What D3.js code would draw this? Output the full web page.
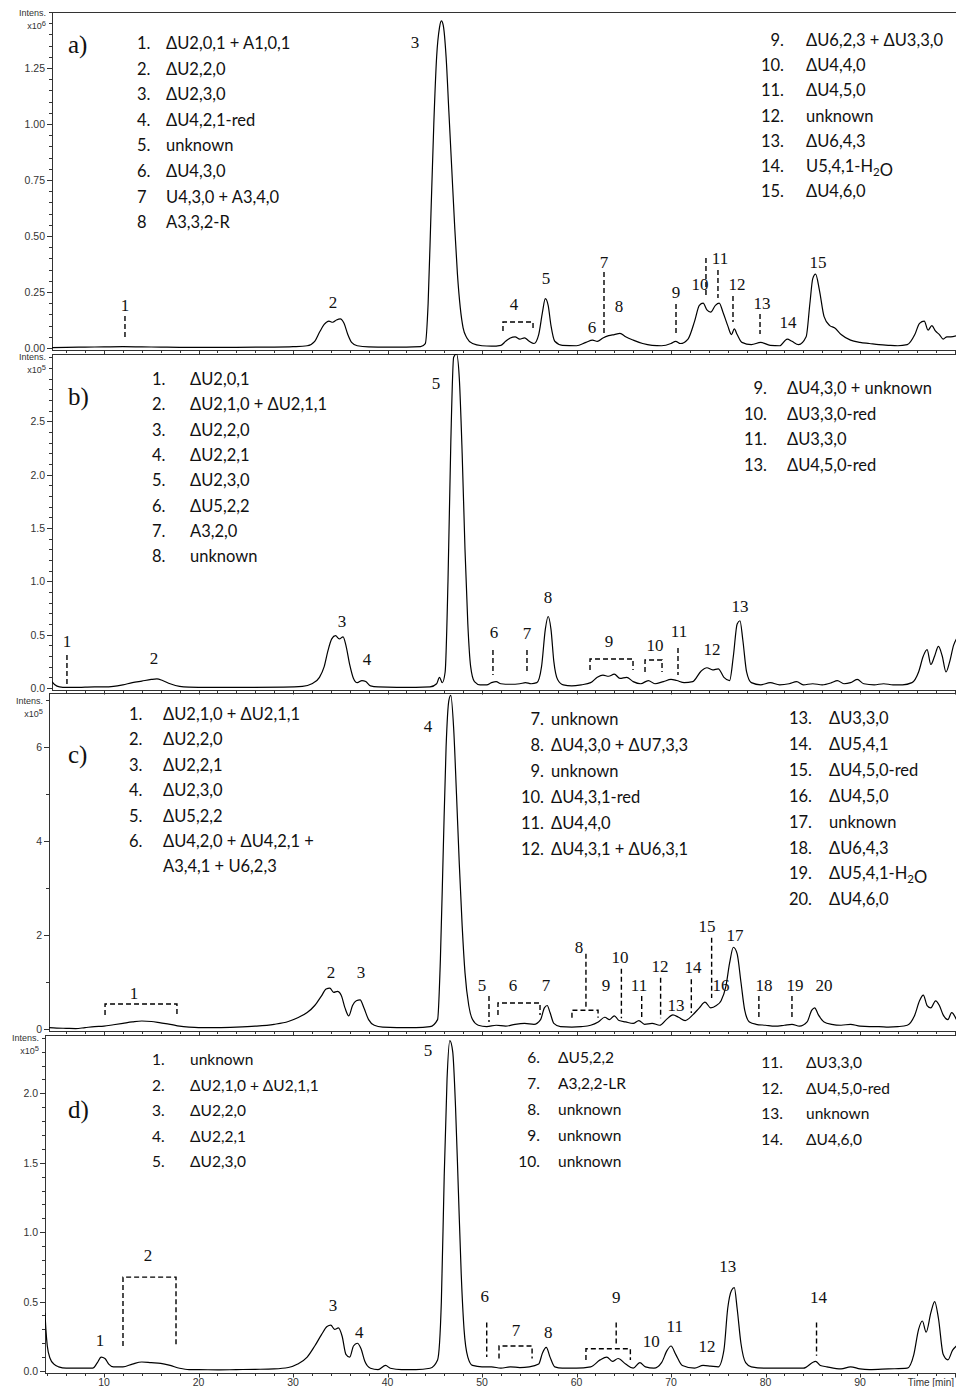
<!DOCTYPE html>
<html>
<head>
<meta charset="utf-8">
<script src="https://cdn.jsdelivr.net/npm/d3@7"></script>
<style>
  body { margin: 0; background: #fff; }
  .axis-label { font-family: "Liberation Sans", Arial, sans-serif; font-size: 10.5px; fill: #333; }
  .legend { font-family: Lato, "Open Sans", sans-serif; fill: #111; }
  .peak { font-family: "Liberation Serif", "Times New Roman", serif; font-size: 17px; fill: #111; }
  .tag { font-family: "Liberation Serif", "Times New Roman", serif; font-size: 25px; fill: #111; }
</style>
</head>
<body>
<svg id="chart" width="956" height="1387"></svg>
<script>
// ---------- chromatogram traces: [time (min), intensity] ----------
// a) intensity x10^6
const traceA = [[4.5,0.002],[6,0.003],[8,0.004],[10,0.005],[12,0.006],[14,0.005],[16,0.004],[18,0.003],[20,0.003],[24,0.003],[28,0.004],[30,0.006],[31.5,0.01],[32.3,0.03],[32.8,0.07],[33.3,0.105],[33.8,0.12],[34.2,0.115],[34.6,0.125],[35.0,0.13],[35.4,0.11],[35.8,0.06],[36.2,0.025],[36.8,0.01],[38,0.005],[40,0.004],[42,0.004],[43.5,0.006],[44.0,0.02],[44.3,0.2],[44.6,0.6],[44.9,1.0],[45.2,1.3],[45.5,1.43],[45.7,1.46],[45.9,1.44],[46.2,1.3],[46.5,1.05],[46.8,0.8],[47.1,0.55],[47.4,0.33],[47.7,0.18],[48.0,0.09],[48.4,0.045],[49,0.02],[50,0.01],[51,0.008],[52,0.012],[52.5,0.03],[53,0.045],[53.5,0.05],[54,0.04],[54.5,0.045],[55,0.03],[55.5,0.02],[56,0.06],[56.4,0.16],[56.7,0.22],[57.0,0.19],[57.3,0.1],[57.7,0.03],[58.5,0.012],[60,0.01],[61,0.025],[61.7,0.035],[62.2,0.03],[62.8,0.045],[63.4,0.055],[64,0.06],[64.6,0.065],[65.2,0.05],[66,0.035],[67,0.02],[68,0.012],[69,0.01],[70,0.02],[70.5,0.03],[71,0.02],[71.8,0.04],[72.5,0.12],[73.0,0.19],[73.4,0.2],[73.8,0.17],[74.2,0.16],[74.7,0.19],[75.1,0.2],[75.5,0.16],[76.0,0.1],[76.4,0.06],[76.7,0.085],[77.0,0.06],[77.5,0.025],[78.5,0.015],[79.5,0.025],[80.5,0.012],[81.5,0.01],[82.3,0.04],[82.8,0.03],[83.5,0.015],[84.3,0.05],[84.7,0.2],[85.0,0.31],[85.3,0.33],[85.7,0.26],[86.2,0.14],[86.8,0.1],[87.3,0.09],[88,0.06],[89,0.035],[90,0.025],[91,0.02],[92,0.015],[93,0.012],[94,0.01],[95,0.015],[95.8,0.06],[96.3,0.11],[96.8,0.12],[97.2,0.08],[97.6,0.1],[98,0.075],[98.4,0.06],[98.8,0.04],[99.2,0.05],[99.6,0.05],[100.2,0.055]];
// b) intensity x10^5
const traceB = [[4.5,0.06],[4.8,0.03],[5.3,0.01],[6,0.005],[7,0.005],[8,0.008],[9,0.01],[10,0.01],[11,0.015],[12,0.03],[13,0.05],[14,0.065],[15,0.08],[15.6,0.085],[16.2,0.07],[17,0.04],[18,0.015],[19,0.008],[21,0.005],[25,0.005],[29,0.008],[31,0.015],[32,0.04],[32.8,0.1],[33.3,0.2],[33.7,0.35],[34.1,0.46],[34.5,0.49],[34.9,0.46],[35.3,0.48],[35.6,0.4],[36.0,0.22],[36.4,0.09],[36.8,0.05],[37.3,0.07],[37.7,0.06],[38.2,0.02],[39,0.01],[41,0.006],[43,0.006],[44.5,0.01],[45.2,0.04],[45.5,0.1],[45.8,0.05],[46.1,0.15],[46.4,1.0],[46.7,2.3],[47.0,3.1],[47.3,3.13],[47.6,2.9],[47.9,2.2],[48.2,1.3],[48.5,0.6],[48.8,0.2],[49.2,0.06],[49.8,0.03],[50.5,0.03],[51,0.05],[51.5,0.06],[52,0.04],[53,0.035],[54,0.04],[54.6,0.05],[55.2,0.04],[55.8,0.05],[56.3,0.2],[56.7,0.55],[57.0,0.67],[57.3,0.55],[57.6,0.25],[58,0.08],[58.6,0.03],[59.5,0.02],[60.5,0.03],[61.5,0.05],[62.2,0.1],[62.8,0.12],[63.4,0.11],[64,0.13],[64.6,0.09],[65.3,0.1],[66,0.06],[66.8,0.04],[67.6,0.07],[68.3,0.04],[69.2,0.06],[70,0.08],[70.6,0.07],[71.4,0.05],[72.3,0.06],[73.2,0.16],[73.8,0.19],[74.4,0.17],[75,0.18],[75.6,0.1],[76.2,0.07],[76.6,0.3],[77.0,0.6],[77.3,0.63],[77.6,0.45],[78,0.15],[78.5,0.05],[79.5,0.03],[80.5,0.05],[81.5,0.03],[82.5,0.04],[83.3,0.06],[84,0.03],[85,0.04],[86,0.03],[87,0.05],[87.6,0.07],[88.3,0.04],[89,0.05],[89.7,0.08],[90.4,0.04],[91.5,0.03],[92.5,0.04],[93.5,0.03],[94.5,0.03],[95.5,0.05],[96.2,0.15],[96.7,0.3],[97.1,0.36],[97.5,0.22],[97.9,0.3],[98.3,0.39],[98.7,0.3],[99.1,0.15],[99.5,0.25],[99.9,0.4],[100.2,0.46]];
// c) intensity x10^5
const traceC = [[4.2,0.03],[5,0.02],[6,0.015],[7,0.01],[8,0.03],[9,0.05],[10,0.06],[11,0.09],[12,0.12],[13,0.15],[14,0.17],[15,0.16],[16,0.13],[17,0.1],[18,0.06],[19,0.04],[20,0.03],[22,0.03],[24,0.04],[26,0.06],[28,0.1],[29.5,0.16],[30.5,0.24],[31.5,0.35],[32.3,0.5],[33.0,0.7],[33.5,0.85],[33.9,0.87],[34.3,0.78],[34.7,0.8],[35.1,0.72],[35.5,0.45],[35.9,0.28],[36.3,0.5],[36.7,0.6],[37.1,0.62],[37.5,0.45],[38,0.2],[38.6,0.08],[39.5,0.04],[41,0.03],[43,0.03],[44.5,0.05],[45.3,0.2],[45.6,1.5],[45.9,3.8],[46.2,6.0],[46.5,7.0],[46.7,7.1],[47.0,6.4],[47.3,5.0],[47.6,3.5],[47.9,2.2],[48.2,1.2],[48.6,0.5],[49,0.2],[49.6,0.08],[50.5,0.05],[51.5,0.08],[52.5,0.06],[53.5,0.1],[54.5,0.12],[55.5,0.1],[56.2,0.2],[56.6,0.45],[56.9,0.5],[57.2,0.35],[57.6,0.12],[58.3,0.05],[59.5,0.04],[60.5,0.05],[61.5,0.08],[62.3,0.15],[63,0.25],[63.5,0.2],[64,0.28],[64.5,0.18],[65.2,0.15],[66,0.12],[66.6,0.18],[67.2,0.1],[68,0.12],[68.8,0.08],[69.5,0.2],[70.2,0.3],[70.8,0.25],[71.5,0.18],[72.3,0.3],[73,0.45],[73.6,0.57],[74.2,0.45],[74.8,0.5],[75.3,0.6],[75.8,0.9],[76.2,1.4],[76.6,1.74],[77,1.6],[77.4,1.0],[77.8,0.4],[78.3,0.15],[79,0.1],[80,0.08],[81,0.06],[82,0.08],[82.8,0.1],[83.6,0.06],[84.4,0.15],[84.9,0.4],[85.2,0.45],[85.6,0.3],[86.2,0.15],[87,0.1],[88,0.08],[89,0.1],[90,0.06],[91,0.05],[92,0.05],[93,0.04],[94,0.05],[95,0.08],[95.8,0.3],[96.3,0.6],[96.7,0.72],[97.1,0.5],[97.5,0.45],[98,0.6],[98.4,0.5],[98.8,0.3],[99.3,0.2],[99.7,0.35],[100.2,0.2]];
// d) intensity x10^5
const traceD = [[3.75,0.42],[3.85,0.3],[4,0.18],[4.3,0.09],[4.7,0.05],[5.2,0.03],[6,0.02],[7,0.02],[8,0.02],[8.8,0.02],[9.3,0.06],[9.7,0.1],[10.1,0.09],[10.5,0.05],[11,0.03],[12,0.03],[13,0.05],[14,0.065],[15,0.06],[16,0.055],[17,0.04],[18,0.02],[19,0.01],[20,0.01],[22,0.008],[24,0.01],[26,0.012],[28,0.015],[29.5,0.025],[30.5,0.05],[31.5,0.1],[32.3,0.18],[33,0.26],[33.6,0.32],[34.0,0.33],[34.4,0.3],[34.8,0.31],[35.2,0.25],[35.6,0.12],[36.0,0.1],[36.4,0.18],[36.8,0.2],[37.2,0.16],[37.6,0.07],[38.2,0.02],[39,0.01],[39.8,0.04],[40.3,0.02],[41.5,0.01],[43,0.01],[44.5,0.02],[45.3,0.08],[45.7,0.5],[46.0,1.4],[46.3,2.1],[46.6,2.38],[46.9,2.3],[47.2,1.9],[47.5,1.3],[47.8,0.7],[48.1,0.3],[48.5,0.1],[49,0.04],[50,0.03],[51,0.03],[52,0.02],[53,0.03],[54,0.025],[55,0.03],[56,0.05],[56.4,0.13],[56.8,0.17],[57.2,0.1],[57.7,0.03],[58.5,0.02],[60,0.02],[61.5,0.03],[62.5,0.08],[63.2,0.1],[63.8,0.07],[64.4,0.09],[65.2,0.05],[66,0.02],[66.7,0.06],[67.3,0.03],[68.2,0.02],[69,0.06],[69.6,0.15],[70,0.18],[70.5,0.12],[71.2,0.04],[72.5,0.02],[73.4,0.04],[74.2,0.035],[75,0.03],[75.6,0.15],[76,0.45],[76.4,0.58],[76.7,0.6],[77.0,0.45],[77.4,0.2],[77.9,0.06],[78.5,0.03],[80,0.02],[82,0.02],[84,0.02],[85.3,0.07],[85.8,0.04],[86.5,0.03],[88,0.015],[89,0.03],[90,0.015],[91,0.01],[93,0.015],[95,0.02],[95.7,0.12],[96.2,0.3],[96.6,0.36],[97,0.28],[97.5,0.42],[97.9,0.5],[98.3,0.38],[98.8,0.12],[99.3,0.08],[99.8,0.15],[100.2,0.18]];

// ---------- time axis ----------
const timeTicks = [10, 20, 30, 40, 50, 60, 70, 80, 90];
const timeTitle = "Time [min]";

// ---------- peak assignments (number, composition); "_2" marks a subscript ----------
const legendA1 = [["1.","ΔU2,0,1 + A1,0,1"],["2.","ΔU2,2,0"],["3.","ΔU2,3,0"],["4.","ΔU4,2,1-red"],["5.","unknown"],["6.","ΔU4,3,0"],["7","U4,3,0 + A3,4,0"],["8","A3,3,2-R"]];
const legendA2 = [["9.","ΔU6,2,3 + ΔU3,3,0"],["10.","ΔU4,4,0"],["11.","ΔU4,5,0"],["12.","unknown"],["13.","ΔU6,4,3"],["14.","U5,4,1-H_2O"],["15.","ΔU4,6,0"]];
const legendB1 = [["1.","ΔU2,0,1"],["2.","ΔU2,1,0 + ΔU2,1,1"],["3.","ΔU2,2,0"],["4.","ΔU2,2,1"],["5.","ΔU2,3,0"],["6.","ΔU5,2,2"],["7.","A3,2,0"],["8.","unknown"]];
const legendB2 = [["9.","ΔU4,3,0 + unknown"],["10.","ΔU3,3,0-red"],["11.","ΔU3,3,0"],["13.","ΔU4,5,0-red"]];
const legendC1 = [["1.","ΔU2,1,0 + ΔU2,1,1"],["2.","ΔU2,2,0"],["3.","ΔU2,2,1"],["4.","ΔU2,3,0"],["5.","ΔU5,2,2"],["6.","ΔU4,2,0 + ΔU4,2,1 +"],["","A3,4,1 + U6,2,3"]];
const legendC2 = [["7.","unknown"],["8.","ΔU4,3,0 + ΔU7,3,3"],["9.","unknown"],["10.","ΔU4,3,1-red"],["11.","ΔU4,4,0"],["12.","ΔU4,3,1 + ΔU6,3,1"]];
const legendC3 = [["13.","ΔU3,3,0"],["14.","ΔU5,4,1"],["15.","ΔU4,5,0-red"],["16.","ΔU4,5,0"],["17.","unknown"],["18.","ΔU6,4,3"],["19.","ΔU5,4,1-H_2O"],["20.","ΔU4,6,0"]];
const legendD1 = [["1.","unknown"],["2.","ΔU2,1,0 + ΔU2,1,1"],["3.","ΔU2,2,0"],["4.","ΔU2,2,1"],["5.","ΔU2,3,0"]];
const legendD2 = [["6.","ΔU5,2,2"],["7.","A3,2,2-LR"],["8.","unknown"],["9.","unknown"],["10.","unknown"]];
const legendD3 = [["11.","ΔU3,3,0"],["12.","ΔU4,5,0-red"],["13.","unknown"],["14.","ΔU4,6,0"]];

// ---------- peak numbers on the traces: [label, time, intensity] ----------
const peaksA = [["1",12.22,0.165],["2",34.23,0.179],["3",42.91,1.339],["4",53.39,0.170],["5",56.77,0.286],["6",61.64,0.067],["7",62.91,0.357],["8",64.50,0.161],["9",70.53,0.223],["10",73.07,0.259],["11",75.19,0.375],["12",76.98,0.259],["13",79.63,0.174],["14",82.38,0.089],["15",85.56,0.357]];
const peaksB = [["1",6.08,0.384],["2",15.29,0.225],["3",35.19,0.572],["4",37.83,0.216],["5",45.13,2.802],["6",51.27,0.469],["7",54.76,0.459],["8",56.98,0.797],["9",63.44,0.384],["10",68.31,0.347],["11",70.85,0.478],["12",74.34,0.309],["13",77.30,0.712]];
const peaksC = [["1",13.17,0.638],["2",34.02,1.085],["3",37.20,1.085],["4",44.29,6.319],["5",50.0,0.809],["6",53.28,0.809],["7",56.77,0.809],["8",60.26,1.617],["9",63.12,0.809],["10",64.6,1.404],["11",66.61,0.809],["12",68.84,1.213],["13",70.53,0.383],["14",72.33,1.191],["15",73.81,2.064],["16",75.29,0.809],["17",76.77,1.872],["18",79.84,0.809],["19",83.12,0.809],["20",86.19,0.809]];
const peaksD = [["1",9.58,0.180],["2",14.66,0.79],["3",34.23,0.43],["4",37.0,0.24],["5",44.29,2.27],["6",50.3,0.50],["7",53.6,0.25],["8",57.0,0.24],["9",64.2,0.49],["10",67.9,0.17],["11",70.4,0.28],["12",73.8,0.14],["13",76.0,0.71],["14",85.6,0.49]];

// ---------- dashed leaders [time, from, to] and brackets [t1, t2, level, drop] ----------
const leadersA = [[12.22,0.143,0.045],[62.91,0.339,0.067],[70.53,0.196,0.054],[73.70,0.402,0.232],[74.97,0.348,0.223],[76.56,0.232,0.116],[79.42,0.152,0.063]];
const bracketsA = [[52.22,55.40,0.116,0.076]];
const leadersB = [[6.08,0.309,0.037],[51.16,0.356,0.122],[54.76,0.356,0.141],[70.74,0.375,0.122]];
const bracketsB = [[61.43,65.98,0.272,0.169],[67.25,69.05,0.262,0.150]];
const leadersC = [[50.74,0.702,0.149],[61.0,1.60,0.45],[64.75,1.28,0.23],[66.9,0.70,0.19],[68.9,1.09,0.23],[72.15,1.06,0.34],[74.3,1.94,0.66],[79.3,0.70,0.19],[82.8,0.70,0.19]];
const bracketsC = [[10.11,17.72,0.532,0.298],[51.69,56.14,0.553,0.298],[59.52,62.28,0.40,0.24]];
const leadersD = [[50.5,0.35,0.10],[64.2,0.35,0.18],[85.4,0.35,0.11]];
const bracketsD = [[12.01,17.62,0.676,0.18],[51.8,55.3,0.18,0.09],[61.0,65.7,0.16,0.08]];

// ---------- layout ----------
const svg = d3.select("#chart");
const x = d3.scaleLinear().domain([10, 90]).range([104, 860]);
const right = 956;

const panels = [
  { tag: "a)", left: 52, top: 12, bottom: 348, ymax: 1.5, exp: "6", major: 0.25, minor: 0.05, labelMax: 1.25, fmt: d3.format(".2f"),
    intens: [4, 17], trace: traceA, peaks: peaksA, leaders: leadersA, brackets: bracketsA, legendSize: 16.5,
    legends: [ { rows: legendA1, xNum: 137, numAnchor: "start", xText: 166, y0: 49, dy: 25.6 },
               { rows: legendA2, xNum: 784, numAnchor: "end", xText: 806, y0: 46, dy: 25.2 } ],
    tagPos: [68, 53] },
  { tag: "b)", left: 52, top: 354, bottom: 688, ymax: 3.13, exp: "5", major: 0.5, minor: 0.1, labelMax: 2.5, fmt: d3.format(".1f"),
    intens: [6, 19], trace: traceB, peaks: peaksB, leaders: leadersB, brackets: bracketsB, legendSize: 16.5,
    legends: [ { rows: legendB1, xNum: 152, numAnchor: "start", xText: 190, y0: 385, dy: 25.3 },
               { rows: legendB2, xNum: 767, numAnchor: "end", xText: 787, y0: 394, dy: 25.6 } ],
    tagPos: [68, 405] },
  { tag: "c)", left: 49, top: 693, bottom: 1029, ymax: 7.15, exp: "5", major: 2, minor: 1, labelMax: 6, fmt: d3.format("d"),
    intens: [11, 24], trace: traceC, peaks: peaksC, leaders: leadersC, brackets: bracketsC, legendSize: 16.5,
    legends: [ { rows: legendC1, xNum: 129, numAnchor: "start", xText: 163, y0: 720, dy: 25.4 },
               { rows: legendC2, xNum: 544, numAnchor: "end", xText: 551, y0: 725, dy: 26 },
               { rows: legendC3, xNum: 812, numAnchor: "end", xText: 829, y0: 724, dy: 25.9 } ],
    tagPos: [68, 763] },
  { tag: "d)", left: 45, top: 1035, bottom: 1371, ymax: 2.42, exp: "5", major: 0.5, minor: 0.1, labelMax: 2.0, fmt: d3.format(".1f"),
    intens: [6, 19], trace: traceD, peaks: peaksD, leaders: leadersD, brackets: bracketsD, legendSize: 15.5,
    legends: [ { rows: legendD1, xNum: 152, numAnchor: "start", xText: 190, y0: 1065, dy: 25.5 },
               { rows: legendD2, xNum: 540, numAnchor: "end", xText: 558, y0: 1063, dy: 26 },
               { rows: legendD3, xNum: 783, numAnchor: "end", xText: 806, y0: 1068, dy: 25.7 } ],
    tagPos: [68, 1118] }
];

// writes a string into a text node, turning "_n" into a subscript
function richText(sel, str) {
  const parts = str.split(/(_\d)/);
  parts.forEach(p => {
    if (!p) return;
    if (p[0] === "_") {
      sel.append("tspan").attr("dy", 4).style("font-size", "0.7em").text(p.slice(1));
      sel.append("tspan").attr("dy", -4).text("");
    } else {
      sel.append("tspan").text(p);
    }
  });
}

panels.forEach((p, i) => {
  const g = svg.append("g");
  const y = d3.scaleLinear().domain([0, p.ymax]).range([p.bottom, p.top]);
  const clipId = "clip" + i;
  g.append("clipPath").attr("id", clipId)
    .append("rect").attr("x", p.left).attr("y", p.top).attr("width", right - p.left).attr("height", p.bottom - p.top + 3);

  // frame
  g.append("rect")
    .attr("x", p.left + 0.5).attr("y", p.top + 0.5)
    .attr("width", right - p.left).attr("height", p.bottom - p.top + 2)
    .attr("fill", "none").attr("stroke", "#333").attr("stroke-width", 1);

  // intensity ticks
  const n = Math.floor(p.ymax / p.minor + 1e-6);
  const ticks = d3.range(0, n + 1).map(k => k * p.minor);
  ticks.forEach(v => {
    const isMajor = Math.abs(v / p.major - Math.round(v / p.major)) < 1e-6 && v <= p.labelMax + 1e-9;
    const yy = Math.round(y(v)) + 0.5;
    g.append("line").attr("x1", p.left - (isMajor ? 5 : 3)).attr("x2", p.left)
      .attr("y1", yy).attr("y2", yy).attr("stroke", "#333");
    if (isMajor) {
      g.append("text").attr("class", "axis-label")
        .attr("x", p.left - 7).attr("y", yy).attr("dy", "0.35em")
        .attr("text-anchor", "end").text(p.fmt(v));
    }
  });
  g.append("text").attr("class", "axis-label").style("font-size", "9px")
    .attr("x", p.left - 6).attr("y", p.top + p.intens[0]).attr("text-anchor", "end").text("Intens.");
  const ex = g.append("text").attr("class", "axis-label").style("font-size", "9px")
    .attr("x", p.left - 6).attr("y", p.top + p.intens[1]).attr("text-anchor", "end");
  ex.append("tspan").text("x10");
  ex.append("tspan").attr("dy", -3).style("font-size", "7.5px").text(p.exp);

  // time ticks along the bottom edge
  const tb = p.bottom + 2.5;
  const tmin = Math.ceil(x.invert(p.left) / 2) * 2;
  d3.range(tmin, 101, 2).forEach(t => {
    const xx = Math.round(x(t)) + 0.5;
    const isMajor = t % 10 === 0;
    g.append("line").attr("x1", xx).attr("x2", xx).attr("y1", tb).attr("y2", tb + (isMajor ? 4 : 2.5)).attr("stroke", "#333");
  });

  // trace
  const line = d3.line().x(d => x(d[0])).y(d => y(d[1])).curve(d3.curveMonotoneX);
  g.append("path").datum(p.trace)
    .attr("clip-path", `url(#${clipId})`)
    .attr("d", line).attr("fill", "none").attr("stroke", "#000").attr("stroke-width", 1.2);

  // panel tag
  g.append("text").attr("class", "tag").attr("x", p.tagPos[0]).attr("y", p.tagPos[1]).text(p.tag);

  // legend columns
  p.legends.forEach(col => {
    col.rows.forEach((r, k) => {
      const yy = col.y0 + k * col.dy;
      g.append("text").attr("class", "legend").style("font-size", p.legendSize + "px")
        .attr("x", col.xNum).attr("y", yy).attr("text-anchor", col.numAnchor).text(r[0]);
      const t = g.append("text").attr("class", "legend").style("font-size", p.legendSize + "px")
        .attr("x", col.xText).attr("y", yy);
      richText(t, r[1]);
    });
  });

  // dashed leaders and brackets
  const dash = { stroke: "#000", "stroke-width": 1.4, "stroke-dasharray": "5,3", fill: "none" };
  p.leaders.forEach(l => {
    const el = g.append("line").attr("x1", x(l[0])).attr("x2", x(l[0])).attr("y1", y(l[1])).attr("y2", y(l[2]));
    Object.entries(dash).forEach(([k, v]) => el.attr(k, v));
  });
  p.brackets.forEach(b => {
    const path = d3.path();
    path.moveTo(x(b[0]), y(b[3]));
    path.lineTo(x(b[0]), y(b[2]));
    path.lineTo(x(b[1]), y(b[2]));
    path.lineTo(x(b[1]), y(b[3]));
    const el = g.append("path").attr("d", path.toString());
    Object.entries(dash).forEach(([k, v]) => el.attr(k, v));
  });

  // peak numbers
  p.peaks.forEach(pk => {
    g.append("text").attr("class", "peak").attr("x", x(pk[1])).attr("y", y(pk[2]))
      .attr("text-anchor", "middle").text(pk[0]);
  });

  // time labels on the last panel
  if (i === panels.length - 1) {
    timeTicks.forEach(t => {
      g.append("text").attr("class", "axis-label").attr("x", x(t)).attr("y", p.bottom + 15)
        .attr("text-anchor", "middle").text(t);
    });
    g.append("text").attr("class", "axis-label").style("font-size", "10px")
      .attr("x", 954).attr("y", p.bottom + 15).attr("text-anchor", "end").text(timeTitle);
  }
});
</script>
</body>
</html>
